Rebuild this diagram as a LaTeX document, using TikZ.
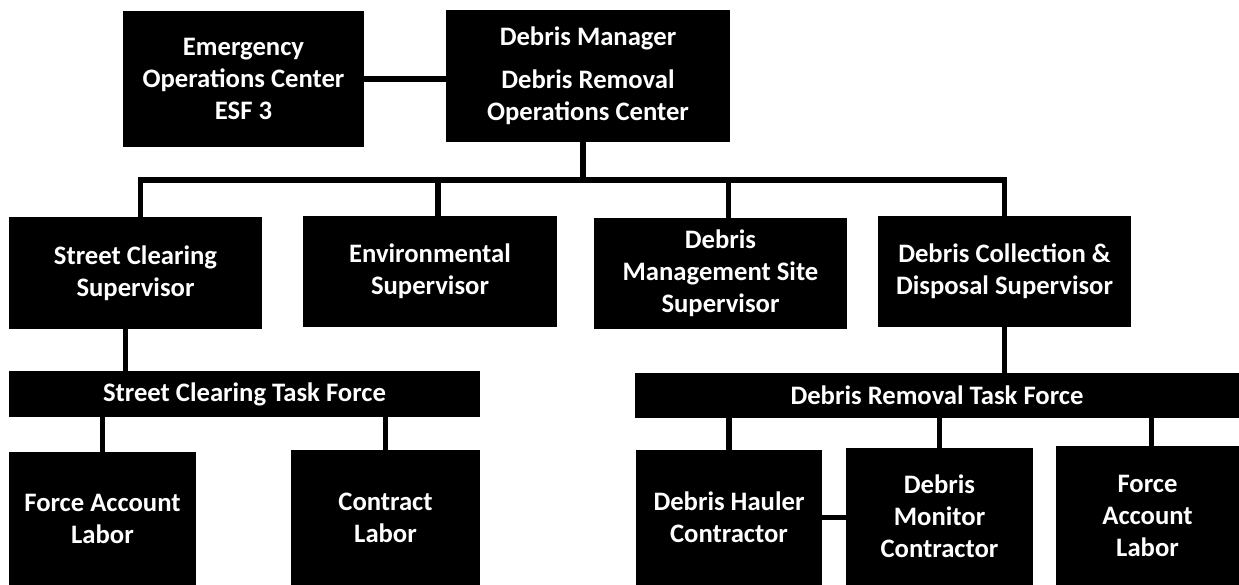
\documentclass[tikz,border=0pt]{standalone}
\usepackage{fontspec}
\setmainfont{Carlito}
\def\px{0.75pt}
\begin{document}
\begin{tikzpicture}[x=\px,y=-\px]
    % Definizione stili
    \tikzstyle{unit}=[fill=black, text=white, align=center, inner sep=0pt, font=\bfseries\fontsize{20}{24}\selectfont]
    \tikzstyle{link}=[line width=4pt, black]

    \useasboundingbox (0,0) rectangle (1239,585);

    % Vertice
    \node[unit, minimum width=241*\px, minimum height=136*\px] (eoc) at (243.5,79) {Emergency\\Operations Center\\ESF 3};
    \node[unit, minimum width=284*\px, minimum height=132*\px] (dm) at (588,76) {Debris Manager\\[8pt]Debris Removal\\Operations Center};

    % Supervisori
    \node[unit, minimum width=253*\px, minimum height=112*\px] (scs) at (135.5,273) {Street Clearing\\Supervisor};
    \node[unit, minimum width=254*\px, minimum height=111*\px] (env) at (430,271.5) {Environmental\\Supervisor};
    \node[unit, minimum width=253*\px, minimum height=111*\px] (dms) at (720.5,273.5) {Debris\\Management Site\\Supervisor};
    \node[unit, minimum width=253*\px, minimum height=111*\px] (dcd) at (1004.5,271.5) {Debris Collection \&\\Disposal Supervisor};

    % Task force
    \node[unit, minimum width=471*\px, minimum height=46*\px] (sctf) at (244.5,394) {Street Clearing Task Force};
    \node[unit, minimum width=604*\px, minimum height=45*\px] (drtf) at (937,395.5) {Debris Removal Task Force};

    % Squadre
    \node[unit, minimum width=187*\px, minimum height=133*\px] (fal) at (102.5,518.5) {Force Account\\Labor};
    \node[unit, minimum width=189*\px, minimum height=135*\px] (cl) at (385.5,517.5) {Contract\\Labor};
    \node[unit, minimum width=186*\px, minimum height=135*\px] (dhc) at (729,517.5) {Debris Hauler\\Contractor};
    \node[unit, minimum width=187*\px, minimum height=137*\px] (dmc) at (939.5,516.5) {Debris\\Monitor\\Contractor};
    \node[unit, minimum width=183*\px, minimum height=139*\px] (fal2) at (1147.5,515.5) {Force\\Account\\Labor};

    % Collegamenti vertice
    \coordinate (bus) at (583,180);
    \draw[link] (eoc.east) -- (eoc.east -| dm.west);
    \draw[link] (dm.south -| bus) -- (bus);
    \draw[link] ([xshift=5*\px]scs.north) |- (bus) -| (dcd.north);
    \draw[link] ([xshift=8*\px]env.north) -- ([xshift=8*\px]env.north |- bus);
    \draw[link] ([xshift=8*\px]dms.north) -- ([xshift=8*\px]dms.north |- bus);

    % Collegamenti task force
    \draw[link] ([xshift=-10*\px]scs.south) -- ([xshift=-10*\px]scs.south |- sctf.north);
    \draw[link] (dcd.south) -- (dcd.south |- drtf.north);
    \draw[link] (fal.north) -- (fal.north |- sctf.south);
    \draw[link] (cl.north) -- (cl.north |- sctf.south);
    \draw[link] (dhc.north) -- (dhc.north |- drtf.south);
    \draw[link] (dmc.north) -- (dmc.north |- drtf.south);
    \draw[link] ([xshift=4*\px]fal2.north) -- ([xshift=4*\px]fal2.north |- drtf.south);
    \draw[link] (dhc.east) -- (dhc.east -| dmc.west);
\end{tikzpicture}
\end{document}
